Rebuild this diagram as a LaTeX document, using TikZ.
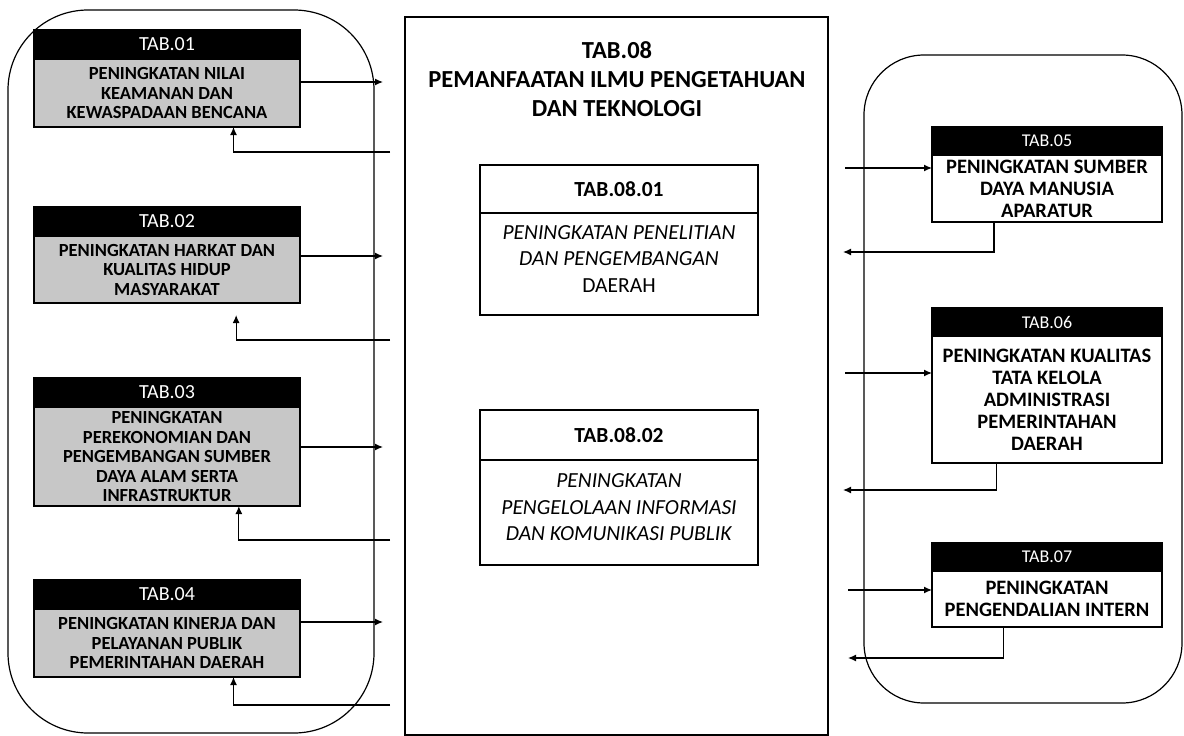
\documentclass[tikz,border=0pt]{standalone}
\usepackage{fontspec}
\setmainfont{Carlito}
\usetikzlibrary{arrows.meta, positioning, calc}

\tikzset{
  tabhead/.style={draw, fill=black, text=white, anchor=north west, outer sep=0pt, inner sep=0pt},
  lefthead/.style={tabhead, minimum width=266pt, minimum height=29pt, font=\fontsize{20}{22}\selectfont},
  leftbody/.style={draw, fill=black!22, outer sep=0pt, inner sep=0pt, minimum width=266pt, align=center, font=\fontsize{18.5}{19.5}\selectfont\bfseries},
  righthead/.style={tabhead, minimum width=230pt, minimum height=28pt, font=\fontsize{18}{20}\selectfont},
  rightbody/.style={draw, fill=white, outer sep=0pt, inner sep=0pt, minimum width=230pt, align=center, font=\fontsize{20.5}{22}\selectfont\bfseries},
  subhead/.style={draw, anchor=north west, outer sep=0pt, inner sep=0pt, minimum width=278pt, font=\fontsize{21.5}{24}\selectfont\bfseries},
  subbody/.style={draw, outer sep=0pt, inner sep=0pt, minimum width=278pt, align=center, font=\fontsize{21.5}{26.5}\selectfont},
  flow/.style={line width=1.3pt, -{Latex[length=8pt,width=7pt]}},
  groupframe/.style={line width=1.2pt}
}

\begin{document}
\begin{tikzpicture}[x=1pt, y=-1pt, line width=1.2pt]
\useasboundingbox (0,0) rectangle (1184,736);

% group frames
\draw[groupframe, rounded corners=80pt] (8,10) rectangle (374,733);
\draw[groupframe, rounded corners=60pt] (864,55) rectangle (1182,703);

% centre block
\node[draw, anchor=north west, minimum width=423pt, minimum height=718pt, inner sep=0pt, outer sep=0pt] (tab08) at (405,17) {};
\node[font=\fontsize{24.5}{29}\selectfont\bfseries, align=center] (tab08t) at (617,79) {TAB.08\\PEMANFAATAN ILMU PENGETAHUAN\\DAN TEKNOLOGI};

\node[subhead, minimum height=48pt] (s01h) at (480,165) {TAB.08.01};
\node[subbody, below=0pt of s01h, minimum height=102pt, text depth=10pt] (s01) {\textit{PENINGKATAN PENELITIAN}\\\textit{DAN PENGEMBANGAN}\\DAERAH};

\node[subhead, minimum height=50pt] (s02h) at (480,410) {TAB.08.02};
\node[subbody, below=0pt of s02h, minimum height=105pt, text depth=10pt] (s02) {\textit{PENINGKATAN}\\\textit{PENGELOLAAN INFORMASI}\\\textit{DAN KOMUNIKASI PUBLIK}};

% left column
\node[lefthead] (t01h) at (34,30) {TAB.01};
\node[leftbody, below=0pt of t01h, minimum height=68pt] (t01) {PENINGKATAN NILAI\\KEAMANAN DAN\\KEWASPADAAN BENCANA};

\node[lefthead] (t02h) at (34,207) {TAB.02};
\node[leftbody, below=0pt of t02h, minimum height=67pt] (t02) {PENINGKATAN HARKAT DAN\\KUALITAS HIDUP\\MASYARAKAT};

\node[lefthead] (t03h) at (34,378) {TAB.03};
\node[leftbody, below=0pt of t03h, minimum height=99pt] (t03) {PENINGKATAN\\PEREKONOMIAN DAN\\PENGEMBANGAN SUMBER\\DAYA ALAM SERTA\\INFRASTRUKTUR};

\node[lefthead] (t04h) at (34,580) {TAB.04};
\node[leftbody, below=0pt of t04h, minimum height=68pt] (t04) {PENINGKATAN KINERJA DAN\\PELAYANAN PUBLIK\\PEMERINTAHAN DAERAH};

% right column
\node[righthead] (t05h) at (932,127) {TAB.05};
\node[rightbody, below=0pt of t05h, minimum height=67pt] (t05) {PENINGKATAN SUMBER\\DAYA MANUSIA\\APARATUR};

\node[righthead] (t06h) at (932,308) {TAB.06};
\node[rightbody, below=0pt of t06h, minimum height=127pt] (t06) {PENINGKATAN KUALITAS\\TATA KELOLA\\ADMINISTRASI\\PEMERINTAHAN\\DAERAH};

\node[righthead] (t07h) at (932,543) {TAB.07};
\node[rightbody, below=0pt of t07h, minimum height=56pt] (t07) {PENINGKATAN\\PENGENDALIAN INTERN};

% left links
\draw[flow, shorten >=22pt] (t01.east |- 0,82) -- (tab08.west |- 0,82);
\draw[flow, shorten <=15pt] (tab08.west |- 0,152) -| ($(t01.south west)!0.75!(t01.south east)$);
\draw[flow, shorten >=22pt] (t02.east |- 0,256) -- (tab08.west |- 0,256);
\draw[flow, shorten <=15pt, shorten >=12pt] (tab08.west |- 0,340) -| ($(t02.south west)!0.76!(t02.south east)$);
\draw[flow, shorten >=22pt] (t03.east |- 0,447) -- (tab08.west |- 0,447);
\draw[flow, shorten <=15pt] (tab08.west |- 0,540) -| ($(t03.south west)!0.77!(t03.south east)$);
\draw[flow, shorten >=22pt] (t04.east |- 0,622) -- (tab08.west |- 0,622);
\draw[flow, shorten <=15pt] (tab08.west |- 0,705) -| ($(t04.south west)!0.75!(t04.south east)$);

% right links
\draw[flow, shorten <=17pt] (tab08.east |- 0,168) -- (t05.west |- 0,168);
\draw[flow, shorten >=15pt] ($(t05.south west)!0.27!(t05.south east)$) |- (tab08.east |- 0,252);
\draw[flow, shorten <=17pt] (tab08.east |- 0,373) -- (t06.west |- 0,373);
\draw[flow, shorten >=15pt] ($(t06.south west)!0.28!(t06.south east)$) |- (tab08.east |- 0,490);
\draw[flow, shorten <=20pt] (tab08.east |- 0,590) -- (t07.west |- 0,590);
\draw[flow, shorten >=20pt] ($(t07.south west)!0.31!(t07.south east)$) |- (tab08.east |- 0,658);
\end{tikzpicture}
\end{document}
